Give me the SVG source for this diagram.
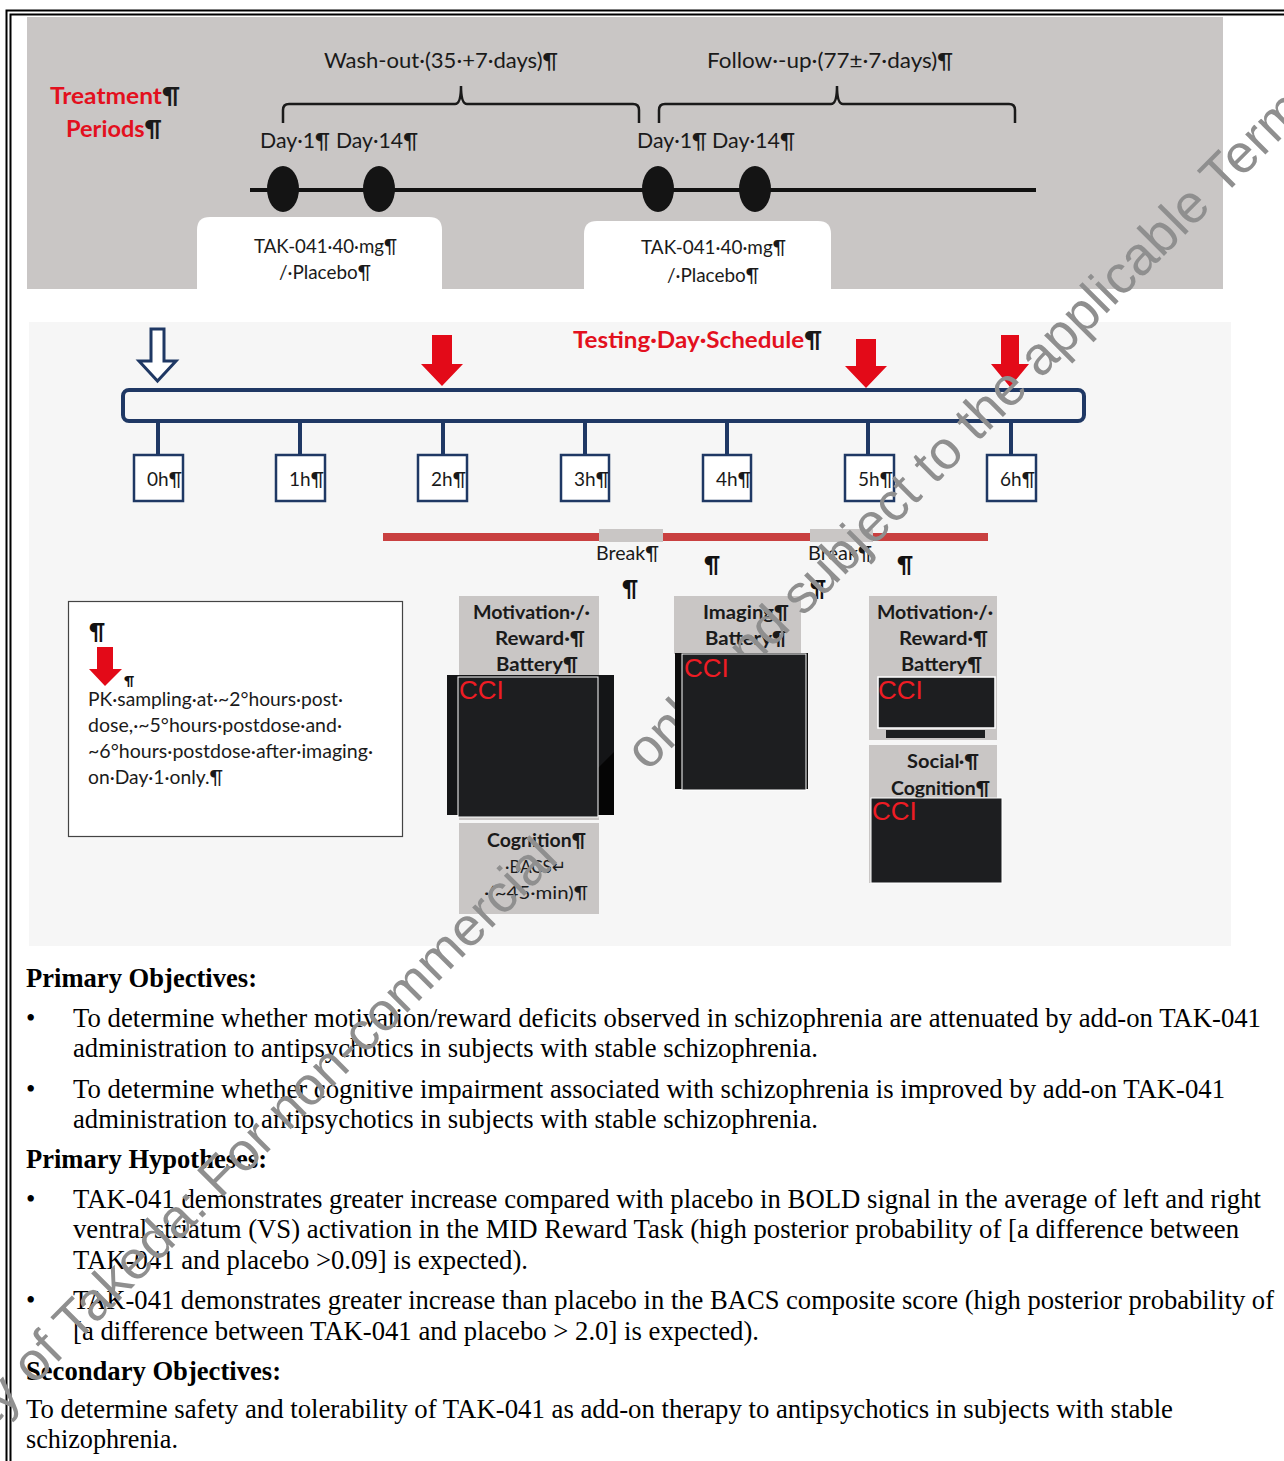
<svg xmlns="http://www.w3.org/2000/svg" width="1284" height="1461" viewBox="0 0 1284 1461">
<style>
.c{font-family:Lato,"Open Sans","DejaVu Sans",sans-serif;fill:#1a1a1a}
.cb{font-family:Lato,"Open Sans","DejaVu Sans",sans-serif;font-weight:bold;fill:#1a1a1a}
.rt{fill:#e3101e}
.pk{fill:#1a1a1a}
.t{font-family:"Liberation Serif","Times New Roman",serif;font-size:26.7px;fill:#000}
.tb{font-family:"Liberation Serif","Times New Roman",serif;font-size:26.7px;font-weight:bold;fill:#000}
.gray{fill:#c9c6c5}
.hb{fill:#fff;stroke:#1f3864;stroke-width:2.5}
.tick{stroke:#1f3864;stroke-width:4}
.ra{fill:#e30a18}
.blk{fill:#1d1e20}
.cci{font-family:"Liberation Sans",Arial,sans-serif;font-size:26px;fill:#ee1c24}
.wm{font-family:"Liberation Sans",Arial,sans-serif;font-size:54px;fill:#8f8f8f}
.pil{font-family:Lato,"DejaVu Sans",sans-serif;font-weight:bold;font-size:22px;fill:#111}
.pils{font-family:Lato,"DejaVu Sans",sans-serif;font-weight:bold;font-size:14px;fill:#111}
</style>

<!-- page frame -->
<g id="frame" fill="none" stroke="#000" stroke-width="2">
  <path d="M6.5,1461 V10.5 H1284"/>
  <path d="M10.5,1461 V14.5 H1284"/>
</g>

<!-- treatment periods panel -->
<g id="treatment-panel">
  <rect x="27" y="17" width="1196" height="272" class="gray"/>
</g>
<g id="treatment-label">
  <text class="cb rt" x="50" y="104" font-size="23" textLength="130" lengthAdjust="spacingAndGlyphs">Treatment<tspan class="pk">¶</tspan></text>
  <text class="cb rt" x="66" y="137" font-size="23" textLength="96" lengthAdjust="spacingAndGlyphs">Periods<tspan class="pk">¶</tspan></text>
</g>
<g id="washout">
  <text class="c" x="324" y="68" font-size="21" textLength="234" lengthAdjust="spacingAndGlyphs">Wash-out·(35·+7·days)¶</text>
  <path d="M283,123 V110 Q283,104 289,104 H455 Q461,104 461,86 Q461,104 467,104 H633 Q639,104 639,110 V123" fill="none" stroke="#1a1a1a" stroke-width="2.5"/>
</g>
<g id="followup">
  <text class="c" x="707" y="68" font-size="21" textLength="246" lengthAdjust="spacingAndGlyphs">Follow·-up·(77±·7·days)¶</text>
  <path d="M659,123 V110 Q659,104 665,104 H831 Q837,104 837,86 Q837,104 843,104 H1009 Q1015,104 1015,110 V123" fill="none" stroke="#1a1a1a" stroke-width="2.5"/>
</g>
<g id="day-labels">
  <text class="c" x="260" y="148" font-size="21" textLength="70" lengthAdjust="spacingAndGlyphs">Day·1¶</text>
  <text class="c" x="336" y="148" font-size="21" textLength="82" lengthAdjust="spacingAndGlyphs">Day·14¶</text>
  <text class="c" x="637" y="148" font-size="21" textLength="70" lengthAdjust="spacingAndGlyphs">Day·1¶</text>
  <text class="c" x="712" y="148" font-size="21" textLength="83" lengthAdjust="spacingAndGlyphs">Day·14¶</text>
</g>
<g id="timeline">
  <line x1="250" y1="190" x2="1036" y2="190" stroke="#111" stroke-width="4"/>
  <ellipse cx="283" cy="189" rx="16" ry="23" fill="#141414"/>
  <ellipse cx="379" cy="189" rx="16" ry="23" fill="#141414"/>
  <ellipse cx="658" cy="189" rx="16" ry="23" fill="#141414"/>
  <ellipse cx="755" cy="189" rx="16" ry="23" fill="#141414"/>
</g>
<g id="dose-box-1">
  <path d="M197,289 V230 Q197,217 210,217 H429 Q442,217 442,230 V289 Z" fill="#fff"/>
  <text class="c" x="254" y="253" font-size="19" textLength="143" lengthAdjust="spacingAndGlyphs">TAK-041·40·mg¶</text>
  <text class="c" x="279" y="279" font-size="19" textLength="92" lengthAdjust="spacingAndGlyphs">/·Placebo¶</text>
</g>
<g id="dose-box-2">
  <path d="M584,289 V234 Q584,221 597,221 H818 Q831,221 831,234 V289 Z" fill="#fff"/>
  <text class="c" x="641" y="254" font-size="19" textLength="145" lengthAdjust="spacingAndGlyphs">TAK-041·40·mg¶</text>
  <text class="c" x="667" y="282" font-size="19" textLength="92" lengthAdjust="spacingAndGlyphs">/·Placebo¶</text>
</g>

<!-- testing day schedule panel -->
<g id="testing-panel">
  <rect x="29" y="322" width="1202" height="624" fill="#f6f6f6"/>
</g>
<g id="testing-title">
  <text class="cb rt" x="573" y="348" font-size="23" textLength="249" lengthAdjust="spacingAndGlyphs">Testing·Day·Schedule<tspan class="pk">¶</tspan></text>
</g>
<g id="dose-arrow">
  <path d="M151,329 H164 V361 H176 L157.5,381 L139,361 H151 Z" fill="#fff" stroke="#1f3864" stroke-width="3" stroke-linejoin="miter"/>
</g>
<g id="pk-arrows">
  <polygon class="ra" points="432,335 452,335 452,364 463,364 442,386 421,364 432,364"/>
  <polygon class="ra" points="856,339 876,339 876,366 887,366 866,388 845,366 856,366"/>
  <polygon class="ra" points="1001,335 1019,335 1019,364 1029,364 1010,387 991,364 1001,364"/>
</g>
<g id="schedule-bar">
  <rect x="123" y="390" width="961" height="31" rx="6" fill="#f6f6f6" stroke="#1f3864" stroke-width="4"/>
</g>
<g id="connectors">
  <line class="tick" x1="158" y1="421" x2="158" y2="455"/>
  <line class="tick" x1="300" y1="421" x2="300" y2="455"/>
  <line class="tick" x1="443" y1="421" x2="443" y2="455"/>
  <line class="tick" x1="585" y1="421" x2="585" y2="455"/>
  <line class="tick" x1="727" y1="421" x2="727" y2="455"/>
  <line class="tick" x1="868" y1="421" x2="868" y2="455"/>
  <line class="tick" x1="1011" y1="421" x2="1011" y2="455"/>
</g>
<g id="hour-0h"><rect class="hb" x="134" y="455" width="49" height="46"/><text class="c" x="147" y="486" font-size="20" textLength="35" lengthAdjust="spacingAndGlyphs">0h¶</text></g>
<g id="hour-1h"><rect class="hb" x="276" y="455" width="49" height="46"/><text class="c" x="289" y="486" font-size="20" textLength="35" lengthAdjust="spacingAndGlyphs">1h¶</text></g>
<g id="hour-2h"><rect class="hb" x="418" y="455" width="49" height="46"/><text class="c" x="431" y="486" font-size="20" textLength="35" lengthAdjust="spacingAndGlyphs">2h¶</text></g>
<g id="hour-3h"><rect class="hb" x="561" y="455" width="48" height="46"/><text class="c" x="574" y="486" font-size="20" textLength="35" lengthAdjust="spacingAndGlyphs">3h¶</text></g>
<g id="hour-4h"><rect class="hb" x="703" y="455" width="48" height="46"/><text class="c" x="716" y="486" font-size="20" textLength="35" lengthAdjust="spacingAndGlyphs">4h¶</text></g>
<g id="hour-5h"><rect class="hb" x="845" y="455" width="49" height="46"/><text class="c" x="858" y="486" font-size="20" textLength="35" lengthAdjust="spacingAndGlyphs">5h¶</text></g>
<g id="hour-6h"><rect class="hb" x="987" y="455" width="49" height="46"/><text class="c" x="1000" y="486" font-size="20" textLength="35" lengthAdjust="spacingAndGlyphs">6h¶</text></g>

<g id="session-line">
  <rect x="383" y="533" width="605" height="8" fill="#c94040"/>
  <rect x="599" y="529" width="64" height="13" class="gray"/>
  <rect x="810" y="529" width="63" height="13" class="gray"/>
  <text class="c" x="596" y="560" font-size="19" textLength="63" lengthAdjust="spacingAndGlyphs">Break¶</text>
  <text class="c" x="808" y="560" font-size="19" textLength="64" lengthAdjust="spacingAndGlyphs">Break¶</text>
  <text class="pil" x="704" y="573">¶</text>
  <text class="pil" x="622" y="597">¶</text>
  <text class="pil" x="810" y="597">¶</text>
  <text class="pil" x="897" y="573">¶</text>
</g>

<g id="legend">
  <rect x="68.5" y="601.5" width="334" height="235" fill="#fff" stroke="#444" stroke-width="1.2"/>
  <text class="pil" x="89" y="640">¶</text>
  <polygon class="ra" points="97,647 113,647 113,669 122,669 105,686 89,669 97,669"/>
  <text class="pils" x="124" y="686">¶</text>
  <text class="c" x="88" y="706" font-size="19" textLength="255" lengthAdjust="spacingAndGlyphs">PK·sampling·at·~2°hours·post·</text>
  <text class="c" x="88" y="732" font-size="19" textLength="254" lengthAdjust="spacingAndGlyphs">dose,·~5°hours·postdose·and·</text>
  <text class="c" x="88" y="758" font-size="19" textLength="285" lengthAdjust="spacingAndGlyphs">~6°hours·postdose·after·imaging·</text>
  <text class="c" x="88" y="784" font-size="19" textLength="135" lengthAdjust="spacingAndGlyphs">on·Day·1·only.¶</text>
</g>

<g id="block-motivation-1">
  <rect x="459" y="596" width="140" height="224" class="gray"/>
  <text class="cb" x="473" y="619" font-size="18" textLength="117" lengthAdjust="spacingAndGlyphs">Motivation·/·</text>
  <text class="cb" x="495" y="645" font-size="18" textLength="90" lengthAdjust="spacingAndGlyphs">Reward·¶</text>
  <text class="cb" x="496" y="671" font-size="18" textLength="82" lengthAdjust="spacingAndGlyphs">Battery¶</text>
</g>
<g id="block-cognition-bacs">
  <rect x="459" y="823" width="140" height="91" class="gray"/>
  <text class="cb" x="487" y="847" font-size="18" textLength="99" lengthAdjust="spacingAndGlyphs">Cognition¶</text>
  <text class="c" x="505" y="873" font-size="18" textLength="61" lengthAdjust="spacingAndGlyphs">·BACS↵</text>
  <text class="c" x="484" y="899" font-size="18" textLength="104" lengthAdjust="spacingAndGlyphs">·(~45·min)¶</text>
</g>
<g id="block-imaging">
  <rect x="674" y="596" width="127" height="58" class="gray"/>
  <text class="cb" x="703" y="619" font-size="18" textLength="86" lengthAdjust="spacingAndGlyphs">Imaging¶</text>
  <text class="cb" x="705" y="645" font-size="18" textLength="82" lengthAdjust="spacingAndGlyphs">Battery¶</text>
</g>
<g id="block-motivation-2">
  <rect x="869" y="596" width="128" height="144" class="gray"/>
  <text class="cb" x="877" y="619" font-size="18" textLength="116" lengthAdjust="spacingAndGlyphs">Motivation·/·</text>
  <text class="cb" x="899" y="645" font-size="18" textLength="89" lengthAdjust="spacingAndGlyphs">Reward·¶</text>
  <text class="cb" x="901" y="671" font-size="18" textLength="81" lengthAdjust="spacingAndGlyphs">Battery¶</text>
</g>
<g id="block-social">
  <rect x="869" y="745" width="128" height="138" class="gray"/>
  <text class="cb" x="907" y="768" font-size="18" textLength="72" lengthAdjust="spacingAndGlyphs">Social·¶</text>
  <text class="cb" x="891" y="795" font-size="18" textLength="99" lengthAdjust="spacingAndGlyphs">Cognition¶</text>
</g>

<!-- objectives text -->
<g id="objectives">
  <text class="tb" x="26" y="987" textLength="231" lengthAdjust="spacingAndGlyphs">Primary Objectives:</text>
  <text class="t" x="26" y="1027">•</text>
  <text class="t" x="73" y="1027" textLength="1188" lengthAdjust="spacingAndGlyphs">To determine whether motivation/reward deficits observed in schizophrenia are attenuated by add-on TAK-041</text>
  <text class="t" x="73" y="1057" textLength="745" lengthAdjust="spacingAndGlyphs">administration to antipsychotics in subjects with stable schizophrenia.</text>
  <text class="t" x="26" y="1098">•</text>
  <text class="t" x="73" y="1098" textLength="1152" lengthAdjust="spacingAndGlyphs">To determine whether cognitive impairment associated with schizophrenia is improved by add-on TAK-041</text>
  <text class="t" x="73" y="1128" textLength="745" lengthAdjust="spacingAndGlyphs">administration to antipsychotics in subjects with stable schizophrenia.</text>
  <text class="tb" x="26" y="1168" textLength="241" lengthAdjust="spacingAndGlyphs">Primary Hypotheses:</text>
  <text class="t" x="26" y="1208">•</text>
  <text class="t" x="73" y="1208" textLength="1188" lengthAdjust="spacingAndGlyphs">TAK-041 demonstrates greater increase compared with placebo in BOLD signal in the average of left and right</text>
  <text class="t" x="73" y="1238" textLength="1166" lengthAdjust="spacingAndGlyphs">ventral striatum (VS) activation in the MID Reward Task (high posterior probability of [a difference between</text>
  <text class="t" x="73" y="1269" textLength="455" lengthAdjust="spacingAndGlyphs">TAK-041 and placebo &gt;0.09] is expected).</text>
  <text class="t" x="26" y="1309">•</text>
  <text class="t" x="73" y="1309" textLength="1201" lengthAdjust="spacingAndGlyphs">TAK-041 demonstrates greater increase than placebo in the BACS composite score (high posterior probability of</text>
  <text class="t" x="73" y="1340" textLength="686" lengthAdjust="spacingAndGlyphs">[a difference between TAK-041 and placebo &gt; 2.0] is expected).</text>
  <text class="tb" x="26" y="1380" textLength="255" lengthAdjust="spacingAndGlyphs">Secondary Objectives:</text>
  <text class="t" x="26" y="1418" textLength="1147" lengthAdjust="spacingAndGlyphs">To determine safety and tolerability of TAK-041 as add-on therapy to antipsychotics in subjects with stable</text>
  <text class="t" x="26" y="1448" textLength="152" lengthAdjust="spacingAndGlyphs">schizophrenia.</text>
</g>

<!-- watermark -->
<g id="watermark" transform="translate(34,1386) rotate(-45)">
  <text class="wm" x="-219" y="0">Property of Takeda: For non-commercial</text>
  <text class="wm" x="868" y="0">only and subject to the applicable Terms of Use</text>
</g>

<!-- redacted CCI boxes -->
<g id="cci-1">
  <rect x="447" y="675" width="167" height="140" fill="#141517"/>
  <polygon points="598,768 614,752 614,815 598,815" fill="#050505"/>
  <rect x="458" y="677" width="140" height="140" class="blk" stroke="#fff" stroke-width="1"/>
  <text class="cci" x="459" y="699">CCI</text>
</g>
<g id="cci-2">
  <rect x="675" y="653" width="133" height="136" fill="#0c0c0c"/>
  <rect x="682" y="654" width="124" height="136" class="blk" stroke="#fff" stroke-width="1"/>
  <text class="cci" x="684" y="677">CCI</text>
</g>
<g id="cci-3">
  <rect x="878" y="677" width="117" height="51" class="blk" stroke="#fff" stroke-width="1.5"/>
  <rect x="886" y="730" width="99" height="8" class="blk"/>
  <text class="cci" x="878" y="699">CCI</text>
</g>
<g id="cci-4">
  <rect x="871" y="798" width="131" height="85" class="blk" stroke="#fff" stroke-width="1"/>
  <text class="cci" x="872" y="820">CCI</text>
</g>
</svg>
